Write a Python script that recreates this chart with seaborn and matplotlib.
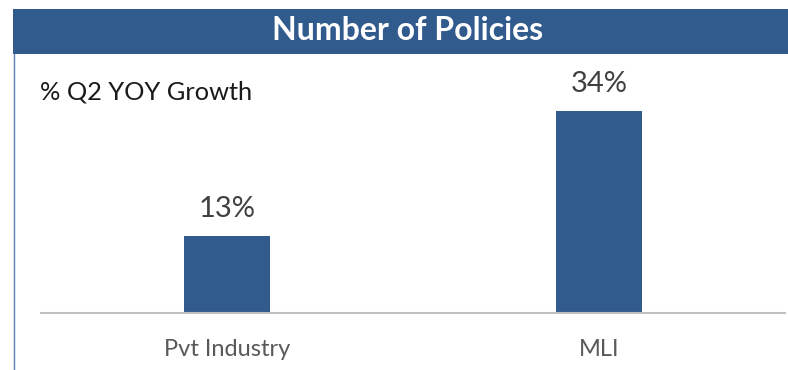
import matplotlib
matplotlib.use("Agg")
import matplotlib.pyplot as plt
import seaborn as sns
import pandas as pd
from matplotlib.patches import Rectangle
from matplotlib.lines import Line2D

categories = ["Pvt Industry", "MLI"]
growth = [13, 34]
value_labels = ["13%", "34%"]
title = "Number of Policies"
subtitle = "% Q2 YOY Growth"

sns.set_theme(style="white")
plt.rcParams['font.family'] = ['Lato', 'DejaVu Sans']

W, H = 788, 370
fig = plt.figure(figsize=(W / 100, H / 100), dpi=100)

bar_color = "#325B8D"

# axes: x from 41 to 785, baseline at y=313, top at y=54
ax = fig.add_axes([41 / W, (H - 313) / H, (785 - 41) / W, (313 - 54) / H])
df = pd.DataFrame({"cat": categories, "val": growth})
sns.barplot(data=df, x="cat", y="val", color=bar_color, width=0.23,
            saturation=1, ax=ax, edgecolor="none")
ax.set_xlim(-0.5, 1.5)
ax.set_ylim(0, 34 * 259 / 202)

for s in ["top", "right", "left"]:
    ax.spines[s].set_visible(False)
ax.spines["bottom"].set_color("#BFBFBF")
ax.spines["bottom"].set_linewidth(1.5)
ax.set_yticks([])
ax.set_xlabel("")
ax.set_ylabel("")
ax.tick_params(axis="x", length=0, pad=19, labelsize=17, labelcolor="#595959")

ax.bar_label(ax.containers[0], labels=value_labels, padding=10,
             fontsize=21, color="#404040")

# title bar
fig.patches.append(Rectangle((13 / W, (H - 54) / H), (W - 13) / W, 45 / H,
                             transform=fig.transFigure, facecolor=bar_color,
                             edgecolor="none", zorder=0))
fig.text(408 / W, (H - 31) / H, title, color="white",
         fontsize=23, fontweight="bold", ha="center", va="center")

# left border line
fig.lines.append(Line2D([13.5 / W, 13.5 / W], [0, (H - 54) / H],
                        transform=fig.transFigure, color="#5A7FB5", lw=1))

fig.text(40 / W, (H - 92) / H, subtitle, fontsize=18.3, color="#1A1A1A",
         ha="left", va="center")

fig.savefig("out.png", dpi=100)
